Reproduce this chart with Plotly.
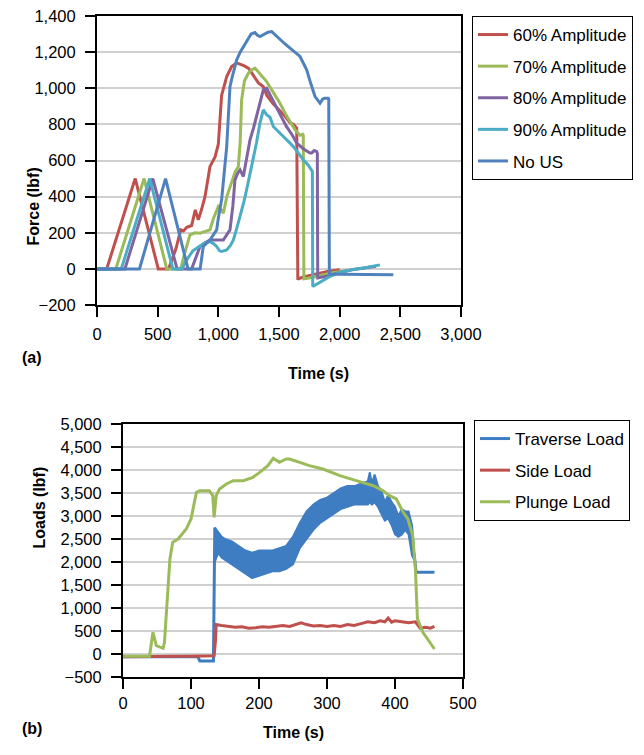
import plotly.graph_objects as go

# ---------------- Panel (a) data ----------------
a60_x = [0, 80, 315, 505, 590, 650, 690, 712, 740, 780, 810, 835, 862, 890, 931, 973, 1000, 1027, 1069,
         1110, 1150, 1210, 1250, 1290, 1330, 1370, 1400, 1450, 1500, 1550, 1590, 1620, 1646, 1655, 1660,
         1700, 1800, 1900, 2000]
a60_y = [0, 0, 500, 0, 0, 110, 216, 210, 230, 240, 327, 271, 330, 400, 566, 620, 690, 960, 1065,
         1120, 1140, 1125, 1110, 1070, 1030, 1010, 960, 915, 880, 845, 810, 800, 780, -60,
         -55, -45, -30, -15, -5]
a60_x = a60_x[:len(a60_y)]

a70_x = [0, 155, 388, 575, 690, 712, 766, 808, 849, 890, 931, 960, 1000, 1020, 1041, 1070, 1096, 1140,
         1165, 1180, 1192, 1215, 1247, 1270, 1302, 1340, 1398, 1450, 1508, 1560, 1632, 1673, 1695, 1700,
         1705, 1750, 1850, 1950, 2050]
a70_y = [0, 0, 500, 0, 0, 60, 188, 200, 197, 205, 216, 280, 345, 330, 308, 400, 456, 540,
         567, 700, 936, 1040, 1083, 1100, 1111, 1080, 1037, 980, 917, 850, 770, 740, 745, 740,
         -55, -50, -35, -20, -10]

a80_x = [0, 230, 460, 660, 780, 849, 890, 931, 980, 1041, 1070, 1096, 1120, 1137, 1160, 1179, 1206,
         1230, 1261, 1290, 1316, 1345, 1371, 1398, 1430, 1470, 1508, 1560, 1610, 1646, 1700, 1755, 1769,
         1790, 1810, 1816, 1819, 1900, 2000, 2100, 2200, 2300]
a80_y = [0, 0, 500, 0, 0, 124, 145, 160, 160, 160, 190, 216, 350, 493, 530, 548, 511,
         600, 714, 780, 843, 920, 991, 1000, 960, 910, 862, 790, 740, 696, 665, 641, 641,
         655, 650, 640, -50, -40, -20, -5, 5, 15]

a90_x = [0, 200, 435, 625, 700, 739, 790, 849, 890, 931, 960, 986, 1010, 1027, 1069, 1100, 1124, 1150,
         1179, 1210, 1233, 1260, 1288, 1315, 1343, 1371, 1398, 1426, 1453, 1500, 1536, 1591, 1618, 1660,
         1700, 1740, 1769, 1775, 1778, 1850, 1920, 2000, 2100, 2200, 2332]
a90_y = [0, 0, 500, 0, 0, 50, 100, 124, 145, 151, 140, 124, 100, 96, 105, 130, 160, 220,
         290, 370, 437, 520, 604, 700, 807, 880, 853, 840, 788, 760, 733, 696, 677, 640,
         604, 575, 548, 540, -98, -70, -42, -20, -5, 5, 22]

anous_x = [0, 350, 565, 750, 850, 876, 931, 986, 1000, 1027, 1069, 1096, 1110, 1151, 1180, 1206, 1240,
           1270, 1302, 1320, 1343, 1380, 1410, 1440, 1470, 1508, 1550, 1591, 1630, 1673, 1700, 1728,
           1760, 1797, 1838, 1860, 1879, 1906, 1910, 1915, 2000, 2200, 2442]
anous_y = [0, 0, 500, 0, 0, 124, 160, 216, 280, 382, 677, 1009, 1050, 1157, 1200, 1231, 1270,
           1300, 1308, 1295, 1286, 1300, 1310, 1314, 1295, 1268, 1245, 1222, 1200, 1176, 1140, 1102,
           1030, 954, 917, 940, 945, 945, 940, -30, -30, -30, -33]

a_names = ["60% Amplitude", "70% Amplitude", "80% Amplitude", "90% Amplitude", "No US"]
a_colors = ["#C0504D", "#9BBB59", "#8064A2", "#4BACC6", "#4F81BD"]

# ---------------- Panel (b) data ----------------
trav_start_x = [0, 110, 113, 133, 135]
trav_start_y = [-60, -60, -150, -150, 2750]
trav_band_x = [135, 138, 140, 145, 150, 160, 170, 180, 190, 200, 210, 220, 230, 240, 250, 260, 270, 280,
               290, 300, 310, 320, 330, 340, 350, 360, 363, 366, 370, 375, 380, 385, 390, 395, 400, 405,
               410, 415, 420, 425, 428]
trav_band_hi = [2750, 2700, 2650, 2550, 2500, 2450, 2350, 2250, 2200, 2250, 2250, 2250, 2300, 2350, 2550,
                2850, 3100, 3250, 3350, 3400, 3500, 3600, 3650, 3650, 3700, 3750, 3950, 3700, 3900, 3650,
                3550, 3300, 3450, 3300, 3200, 3000, 3150, 3100, 3100, 2800, 2300]
trav_band_lo = [2000, 2150, 2200, 2100, 2050, 1950, 1850, 1750, 1650, 1700, 1750, 1800, 1800, 1850, 1950,
                2300, 2500, 2700, 2850, 2950, 3050, 3150, 3200, 3250, 3250, 3250, 3300, 3250, 3300, 3200,
                3050, 2900, 2950, 2800, 2600, 2550, 2600, 2700, 2600, 2150, 2050]
trav_end_x = [428, 431, 458]
trav_end_y = [2200, 1776, 1776]

side_x = [0, 40, 60, 80, 100, 120, 134, 136, 137, 145, 155, 165, 175, 185, 195, 205, 215, 225, 235, 245,
          255, 262, 270, 280, 290, 300, 310, 320, 330, 340, 350, 360, 370, 378, 385, 390, 395, 400, 410,
          420, 430, 437, 445, 452, 458]
side_y = [-60, -50, -40, -50, -50, -50, -40, 300, 640, 620, 600, 580, 590, 560, 570, 590, 580, 600, 620, 600,
          640, 680, 640, 610, 620, 600, 620, 600, 640, 620, 660, 700, 680, 720, 700, 780, 690, 720, 700,
          680, 700, 560, 580, 560, 600]

plunge_x = [0, 39, 44, 49, 59, 61, 69, 73, 81, 93, 100, 108, 113, 127, 132, 134, 137, 142, 152, 162, 177,
            191, 201, 213, 221, 230, 240, 245, 260, 274, 294, 319, 343, 368, 382, 392, 402, 412, 419, 426,
            430, 433, 441, 451, 458]
plunge_y = [-50, -50, 471, 180, 123, 254, 2065, 2428, 2500, 2717, 2935, 3515, 3551, 3551, 3443, 2971, 3443,
            3587, 3696, 3768, 3768, 3841, 3949, 4094, 4254, 4167, 4239, 4239, 4167, 4094, 4022, 3877, 3768,
            3659, 3551, 3443, 3370, 3080, 2935, 2572, 1848, 761, 471, 254, 109]

C_TRAV, C_SIDE, C_PLUNGE = "#3F7DC3", "#C0504D", "#9BBB59"

FONT = "Liberation Sans, Arial, sans-serif"
W, H = 644, 755

fig = go.Figure()

for name, col, xs, ys in zip(a_names, a_colors,
                             [a60_x, a70_x, a80_x, a90_x, anous_x],
                             [a60_y, a70_y, a80_y, a90_y, anous_y]):
    fig.add_trace(go.Scatter(x=xs, y=ys, mode="lines", name=name, legendgroup=name,
                             line=dict(color=col, width=3), xaxis="x", yaxis="y", legend="legend"))

# panel (b)
fig.add_trace(go.Scatter(x=trav_start_x, y=trav_start_y, mode="lines", name="Traverse Load",
                         legendgroup="trav", line=dict(color=C_TRAV, width=3),
                         xaxis="x2", yaxis="y2", legend="legend2"))
fig.add_trace(go.Scatter(x=trav_band_x, y=trav_band_lo, mode="lines", showlegend=False,
                         legendgroup="trav", line=dict(color=C_TRAV, width=2),
                         xaxis="x2", yaxis="y2", legend="legend2"))
fig.add_trace(go.Scatter(x=trav_band_x, y=trav_band_hi, mode="lines", showlegend=False,
                         legendgroup="trav", line=dict(color=C_TRAV, width=2), fill="tonexty",
                         fillcolor=C_TRAV, xaxis="x2", yaxis="y2", legend="legend2"))
fig.add_trace(go.Scatter(x=trav_end_x, y=trav_end_y, mode="lines", showlegend=False,
                         legendgroup="trav", line=dict(color=C_TRAV, width=3),
                         xaxis="x2", yaxis="y2", legend="legend2"))
fig.add_trace(go.Scatter(x=side_x, y=side_y, mode="lines", name="Side Load", legendgroup="side",
                         line=dict(color=C_SIDE, width=3), xaxis="x2", yaxis="y2", legend="legend2"))
fig.add_trace(go.Scatter(x=plunge_x, y=plunge_y, mode="lines", name="Plunge Load", legendgroup="plunge",
                         line=dict(color=C_PLUNGE, width=3), xaxis="x2", yaxis="y2", legend="legend2"))

axis_common = dict(showline=True, linecolor="black", linewidth=2, mirror=True,
                   ticks="outside", ticklen=10, tickwidth=1.5, tickcolor="black",
                   tickfont=dict(family=FONT, size=16.5, color="black"), zeroline=False,
                   tickformat=",d", automargin=False)

def px(xl, xr):
    return [xl / W, xr / W]

def py(yt, yb):
    return [1 - yb / H, 1 - yt / H]

fig.update_layout(
    width=W, height=H, margin=dict(l=0, r=0, t=0, b=0, autoexpand=False),
    paper_bgcolor="white", plot_bgcolor="white",
    font=dict(family=FONT, color="black"),
    xaxis=dict(domain=px(97, 461), range=[0, 3000], dtick=500, showgrid=False, anchor="y",
               ticklabelstandoff=3, **axis_common),
    yaxis=dict(domain=py(16, 305), range=[-200, 1400], dtick=200, showgrid=True, gridcolor="#d0d0d0",
               gridwidth=2, anchor="x", ticklabelstandoff=6, **axis_common),
    xaxis2=dict(domain=px(123, 463), range=[0, 500], dtick=100, showgrid=False, anchor="y2",
                ticklabelstandoff=0, **axis_common),
    yaxis2=dict(domain=py(424, 677), range=[-500, 5000], dtick=500, showgrid=True, gridcolor="#d0d0d0",
                gridwidth=2, anchor="x2", ticklabelstandoff=6, **axis_common),
    legend=dict(x=472 / W, y=1 - 16 / H, xanchor="left", yanchor="top", bordercolor="black",
                borderwidth=1, bgcolor="white", font=dict(family=FONT, size=17, color="black"),
                tracegroupgap=6.5, itemwidth=30),
    legend2=dict(x=474 / W, y=1 - 420 / H, xanchor="left", yanchor="top", bordercolor="black",
                 borderwidth=1, bgcolor="white", font=dict(family=FONT, size=17, color="black"),
                 tracegroupgap=6.5, itemwidth=30),
    annotations=[
        dict(text="<b>Force (lbf)</b>", x=22 / W, y=1 - 166 / H, xref="paper", yref="paper",
             textangle=-90, showarrow=False, font=dict(family=FONT, size=16)),
        dict(text="<b>Time (s)</b>", x=318 / W, y=1 - 373 / H, xref="paper", yref="paper",
             showarrow=False, font=dict(family=FONT, size=16)),
        dict(text="<b>(a)</b>", x=20 / W, y=1 - 357 / H, xref="paper", yref="paper",
             showarrow=False, font=dict(family=FONT, size=16)),
        dict(text="<b>Loads (lbf)</b>", x=28 / W, y=1 - 551 / H, xref="paper", yref="paper",
             textangle=-90, showarrow=False, font=dict(family=FONT, size=16)),
        dict(text="<b>Time (s)</b>", x=293 / W, y=1 - 743 / H, xref="paper", yref="paper",
             showarrow=False, font=dict(family=FONT, size=16)),
        dict(text="<b>(b)</b>", x=20 / W, y=1 - 739 / H, xref="paper", yref="paper",
             showarrow=False, font=dict(family=FONT, size=16)),
    ],
)

fig.write_html("out.html", config={"displayModeBar": False},
               post_script="document.body.style.margin='0px';document.body.style.overflow='hidden';")
